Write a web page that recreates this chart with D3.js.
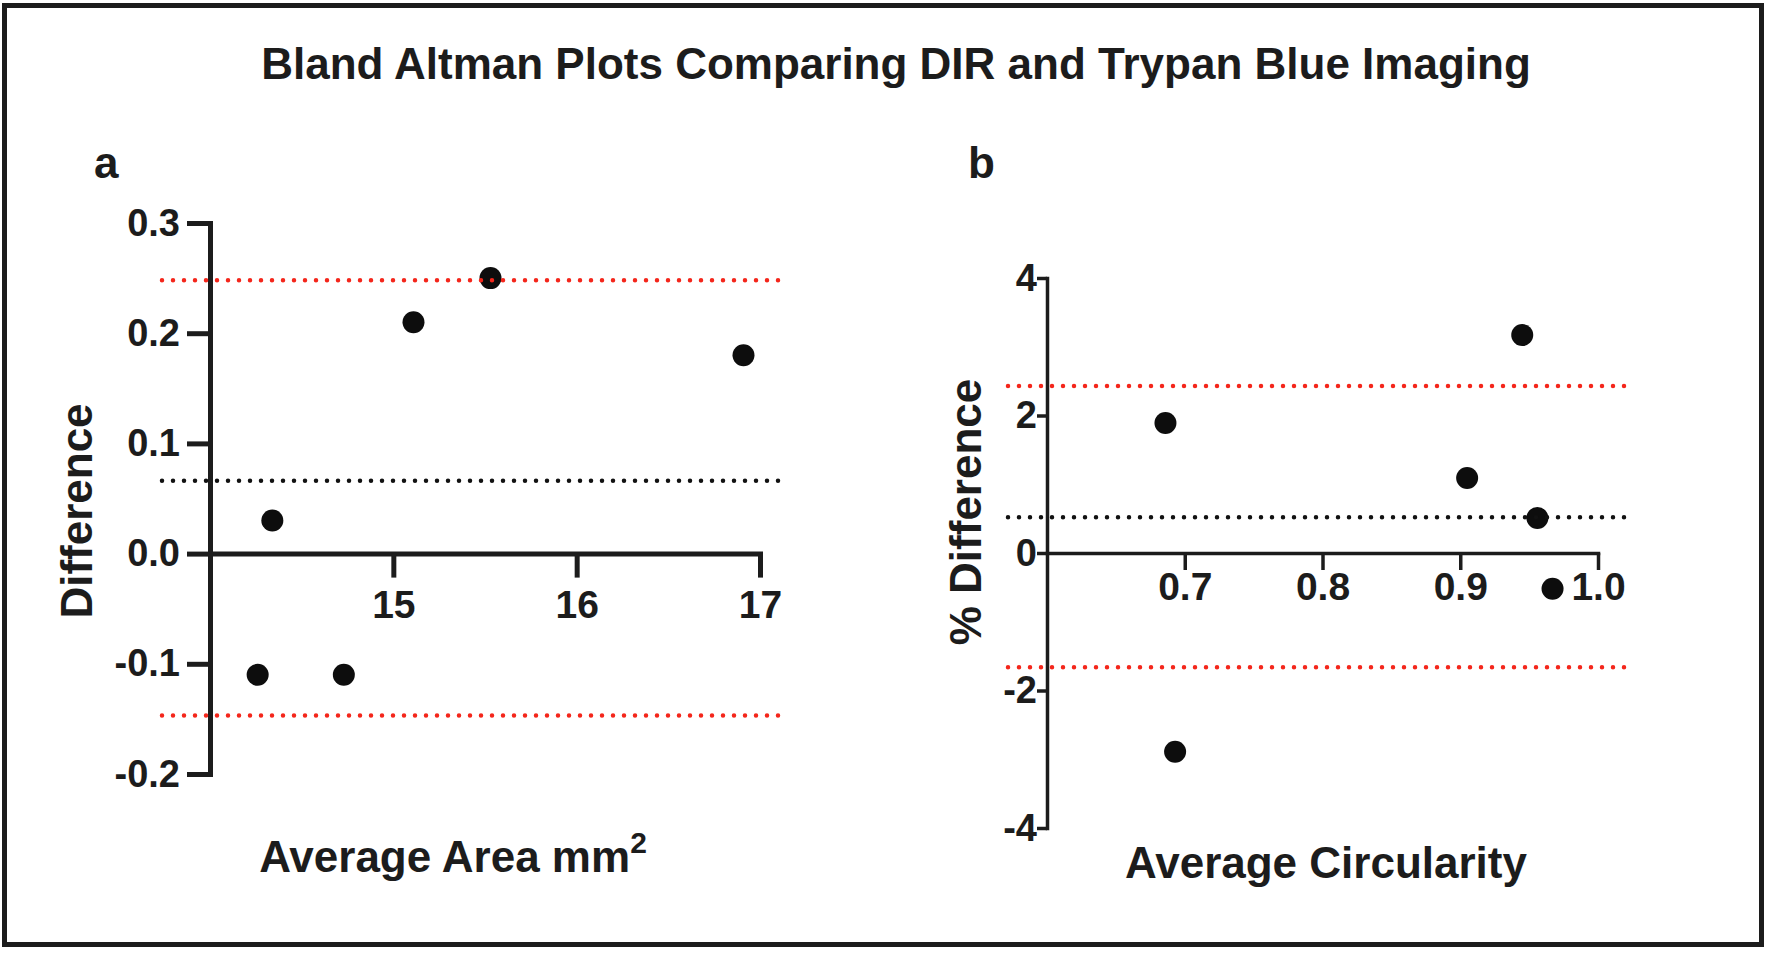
<!DOCTYPE html>
<html>
<head>
  <meta charset="utf-8">
  <title>Bland Altman plots</title>
  <script src="https://cdnjs.cloudflare.com/ajax/libs/d3/7.8.5/d3.min.js"></script>
</head>
<style>
  body { margin: 0; background: #fff; }
  svg { display: block; font-family: "Liberation Sans", Arial, sans-serif; font-weight: bold; }
  text { fill: #1c1c1c; }
  .axis path, .axis line { stroke: #1c1c1c; }
  .axis text { fill: #1c1c1c; font-family: "Liberation Sans", Arial, sans-serif; font-weight: bold; }
</style>
<body>
<svg id="svg" width="1770" height="954"></svg>
<script type="text/javascript">
  // panel a : average area vs difference
  const areaAvg  = [14.26, 14.34, 14.73, 15.11, 15.53, 16.91];
  const areaDiff = [-0.11, 0.03, -0.11, 0.21, 0.25, 0.18];
  const areaBias = 0.066;
  const areaLoA  = [-0.147, 0.248];
  const areaXTicks = [15, 16, 17];
  const areaYTicks = [-0.2, -0.1, 0.0, 0.1, 0.2, 0.3];

  // panel b : average circularity vs % difference
  const circAvg  = [0.686, 0.693, 0.905, 0.945, 0.956, 0.967];
  const circDiff = [1.89, -2.89, 1.09, 3.17, 0.51, -0.52];
  const circBias = 0.52;
  const circLoA  = [-1.66, 2.43];
  const circXTicks = [0.7, 0.8, 0.9, 1.0];
  const circYTicks = [-4, -2, 0, 2, 4];

  const svg = d3.select('#svg');

  // frame + title
  svg.append('rect')
    .attr('x', 4.5).attr('y', 5.5).attr('width', 1757).attr('height', 939)
    .attr('fill', 'none').attr('stroke', '#1c1c1c').attr('stroke-width', 5);

  svg.append('text')
    .attr('x', 896).attr('y', 79)
    .attr('text-anchor', 'middle')
    .attr('font-size', 44)
    .text('Bland Altman Plots Comparing DIR and Trypan Blue Imaging');

  function panel(cfg) {
    const x = d3.scaleLinear().domain(cfg.xDomain).range(cfg.xRange);
    const y = d3.scaleLinear().domain(cfg.yDomain).range(cfg.yRange);
    const g = svg.append('g');

    const yAxis = d3.axisLeft(y)
      .tickValues(cfg.yTicks)
      .tickSize(cfg.yTickSize).tickSizeOuter(0)
      .tickPadding(cfg.yPad)
      .tickFormat(cfg.yFormat);
    const xAxis = d3.axisBottom(x)
      .tickValues(cfg.xTicks)
      .tickSize(cfg.xTickSize).tickSizeOuter(0)
      .tickPadding(cfg.xPad)
      .tickFormat(d => d.toFixed(cfg.xDigits));

    const ya = g.append('g').attr('class', 'axis')
      .attr('transform', `translate(${cfg.xRange[0]},0)`)
      .call(yAxis);
    const xa = g.append('g').attr('class', 'axis')
      .attr('transform', `translate(0,${y(0)})`)
      .call(xAxis);

    [ya, xa].forEach(a => {
      a.selectAll('path, line').attr('stroke-width', cfg.lineW);
      a.select('.domain').attr('stroke-linecap', 'square');
    });
    ya.selectAll('text').attr('font-size', cfg.yFont);
    xa.selectAll('text').attr('font-size', cfg.xFont);

    // points
    g.selectAll('circle.pt')
      .data(d3.zip(cfg.xs, cfg.ys))
      .enter()
      .append('circle')
      .attr('class', 'pt')
      .attr('cx', d => x(d[0]))
      .attr('cy', d => y(d[1]))
      .attr('r', 11)
      .attr('fill', '#0d0d0d');

    // bias and limits of agreement (dotted)
    const lines = [
      { v: cfg.bias, c: '#111' },
      { v: cfg.loa[0], c: '#f4261b' },
      { v: cfg.loa[1], c: '#f4261b' },
    ];
    g.selectAll('line.ref')
      .data(lines)
      .enter()
      .append('line')
      .attr('class', 'ref')
      .attr('x1', cfg.lineX[0]).attr('x2', cfg.lineX[1])
      .attr('y1', d => y(d.v)).attr('y2', d => y(d.v))
      .attr('stroke', d => d.c)
      .attr('stroke-width', 4.5)
      .attr('stroke-linecap', 'round')
      .attr('stroke-dasharray', '0,11');

    // labels
    g.append('text')
      .attr('x', cfg.tag[0]).attr('y', cfg.tag[1])
      .attr('font-size', 44)
      .text(cfg.tagText);

    g.append('text')
      .attr('transform', `translate(${cfg.yTitle[0]},${cfg.yTitle[1]}) rotate(-90)`)
      .attr('text-anchor', 'middle')
      .attr('font-size', 44)
      .text(cfg.yTitleText);

    const xt = g.append('text')
      .attr('x', cfg.xTitle[0]).attr('y', cfg.xTitle[1])
      .attr('text-anchor', 'middle')
      .attr('font-size', 44)
      .text(cfg.xTitleText);
    if (cfg.xTitleSup) {
      xt.append('tspan').attr('dy', -19).attr('font-size', 30).text(cfg.xTitleSup);
    }
  }

  panel({
    xs: areaAvg, ys: areaDiff, bias: areaBias, loa: areaLoA,
    xDomain: [14, 17], xRange: [210, 760],
    yDomain: [-0.2, 0.3], yRange: [774, 223],
    xTicks: areaXTicks, yTicks: areaYTicks,
    xTickSize: 24, xPad: 13, xFont: 39, xDigits: 0,
    yTickSize: 23, yPad: 7, yFont: 38, yFormat: d => d.toFixed(1),
    lineW: 5, lineX: [162, 783],
    tag: [94, 178], tagText: 'a',
    yTitle: [92, 511], yTitleText: 'Difference',
    xTitle: [453, 872], xTitleText: 'Average Area mm', xTitleSup: '2',
  });

  panel({
    xs: circAvg, ys: circDiff, bias: circBias, loa: circLoA,
    xDomain: [0.6, 1.0], xRange: [1047, 1598],
    yDomain: [-4, 4], yRange: [828, 278],
    xTicks: circXTicks, yTicks: circYTicks,
    xTickSize: 17, xPad: 2, xFont: 39, xDigits: 1,
    yTickSize: 10, yPad: 0, yFont: 38, yFormat: d => String(d),
    lineW: 3.5, lineX: [1008, 1630],
    tag: [968, 178], tagText: 'b',
    yTitle: [981, 512], yTitleText: '% Difference',
    xTitle: [1326, 878], xTitleText: 'Average Circularity',
  });
</script>
</body>
</html>
